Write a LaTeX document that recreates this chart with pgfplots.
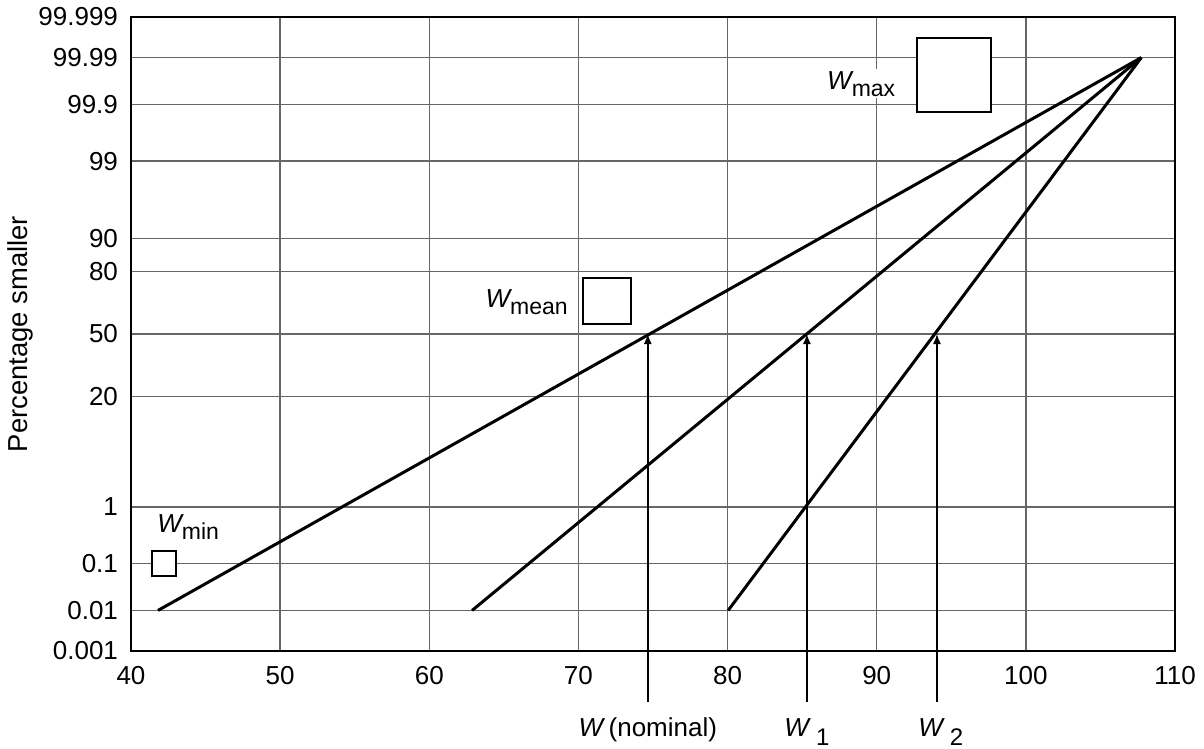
\documentclass[border=0pt]{standalone}
\usepackage{fontspec}
\setmainfont{Liberation Sans}
\usepackage{pgfplots}
\pgfplotsset{compat=1.18}
\usetikzlibrary{arrows.meta}
\newcommand\f{\fontsize{13}{15.5}\selectfont}
\newcommand\s{\fontsize{11.5}{14}\selectfont}
\newcommand\W{{\fontsize{13}{15}\selectfont\itshape W}}
\begin{document}
\begin{tikzpicture}
\begin{axis}[
 scale only axis, width=522pt, height=317pt,
 xmin=40, xmax=110, ymin=-4.2649, ymax=4.2649,
 xtick={40,50,...,110},
 ytick={-4.2649,-3.7190,-3.0902,-2.3263,-0.8416,0,0.8416,1.2816,2.3263,3.0902,3.7190,4.2649},
 yticklabels={0.001,0.01,0.1,1,20,50,80,90,99,99.9,99.99,99.999},
 grid=major, major grid style={black!60, line width=0.75pt},
 major tick length=0pt,
 axis line style={black, line width=1pt},
 tick label style={font=\f},
 /pgf/number format/assume math mode=true,
 xticklabel style={yshift=-4pt},
 yticklabel style={xshift=-3pt},
 ylabel={Percentage smaller},
 ylabel style={font=\fontsize{13.7}{16}\selectfont, at={(axis description cs:-0.106,0.5)}, anchor=center},
 clip=false,
]
% probability lines (y in normal-score units)
\addplot[black, line width=1.5pt] coordinates {(41.81,-3.7190) (107.74,3.7190)};
\addplot[black, line width=1.5pt] coordinates {(62.87,-3.7190) (107.74,3.7190)};
\addplot[black, line width=1.5pt] coordinates {(80.04,-3.7190) (107.74,3.7190)};
% arrows
\addplot[black, line width=0.75pt, -{Latex[length=5pt,width=4pt]}] coordinates {(74.65,-4.95) (74.65,0)};
\addplot[black, line width=0.75pt, -{Latex[length=5pt,width=4pt]}] coordinates {(85.32,-4.95) (85.32,0)};
\addplot[black, line width=0.75pt, -{Latex[length=5pt,width=4pt]}] coordinates {(94.04,-4.95) (94.04,0)};
% boxes
\addplot[draw=black, fill=white, line width=1pt] coordinates {(92.70,2.991) (97.66,2.991) (97.66,3.978) (92.70,3.978)} -- cycle;
\addplot[draw=black, fill=white, line width=1pt] coordinates {(70.30,0.1345) (73.51,0.1345) (73.51,0.749) (70.30,0.749)} -- cycle;
\addplot[draw=black, fill=white, line width=1pt] coordinates {(41.39,-3.252) (43.04,-3.252) (43.04,-2.919) (41.39,-2.919)} -- cycle;
% labels
\node[anchor=base east, fill=white, inner sep=1pt] at (axis cs:91.4,3.296) {\W\raisebox{-3.5pt}{\s max}};
\node[anchor=base east, inner sep=0pt] at (axis cs:69.31,0.363) {\W\raisebox{-3.5pt}{\s mean}};
\node[anchor=base west, inner sep=0pt] at (axis cs:41.74,-2.664) {\W\raisebox{-3.5pt}{\s min}};
\node[anchor=base, inner sep=0pt] at (axis cs:74.65,-5.42) {\W\ \f(nominal)};
\node[anchor=base, inner sep=0pt] at (axis cs:85.32,-5.42) {\W\hspace{3.5pt}\raisebox{-4.25pt}{\fontsize{12}{14}\selectfont 1}};
\node[anchor=base, inner sep=0pt] at (axis cs:94.3,-5.42) {\W\hspace{3.5pt}\raisebox{-4.25pt}{\fontsize{12}{14}\selectfont 2}};
\end{axis}
\pgfresetboundingbox
\path ([xshift=-65.5pt,yshift=-48.5pt]current axis.south west) rectangle ([xshift=14.5pt,yshift=8.5pt]current axis.north east);
\end{tikzpicture}
\end{document}
